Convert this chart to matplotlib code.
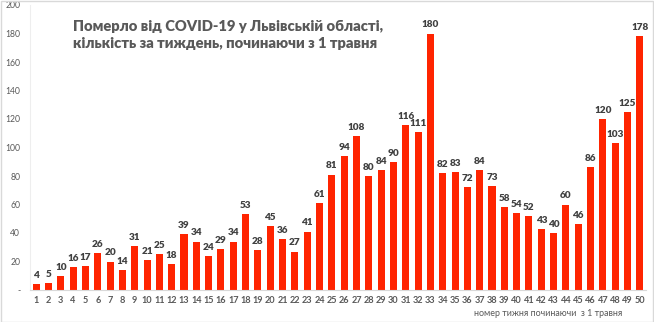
import matplotlib
matplotlib.use("Agg")
import matplotlib.pyplot as plt
from matplotlib.patches import Rectangle

weeks = list(range(1, 51))
deaths = [4, 5, 10, 16, 17, 26, 20, 14, 31, 21, 25, 18, 39, 34, 24, 29, 34, 53, 28, 45,
          36, 27, 41, 61, 81, 94, 108, 80, 84, 90, 116, 111, 180, 82, 83, 72, 84, 73, 58, 54,
          52, 43, 40, 60, 46, 86, 120, 103, 125, 178]
y_ticks = list(range(0, 201, 20))
y_tick_labels = ["-"] + [str(v) for v in y_ticks[1:]]
title = "Померло від COVID-19 у Львівській області,\nкількість за тиждень, починаючи з 1 травня"
x_title = "номер тижня починаючи  з 1 травня"

plt.rcParams['font.family'] = ['Lato', 'DejaVu Sans']

fig = plt.figure(figsize=(6.54, 3.22), dpi=100)
ax = fig.add_axes([30 / 654, 32 / 322, 616 / 654, 285 / 322])

bar_color = "#FF2400"
ax.bar(weeks, deaths, width=0.57, color=bar_color, zorder=2)

for w, d in zip(weeks, deaths):
    ax.annotate(str(d), (w, d), xytext=(0, 3), textcoords="offset points",
                ha="center", va="bottom", fontsize=7.2, fontweight="heavy", color="#404040")

ax.set_xlim(0.5, 50.5)
ax.set_ylim(0, 200)
ax.set_yticks(y_ticks)
ax.set_yticklabels(y_tick_labels)
ax.set_xticks(weeks)
ax.set_xticklabels([str(w) for w in weeks])
ax.tick_params(axis="y", length=0, labelsize=6.2, labelcolor="#595959", pad=7)
ax.tick_params(axis="x", length=0, labelsize=6.6, labelcolor="#595959", pad=4)
for lbl in ax.get_xticklabels():
    lbl.set_fontweight("bold")

for side in ("top", "right"):
    ax.spines[side].set_visible(False)
ax.spines["left"].set_color("#EEEEEE")
ax.spines["left"].set_linewidth(0.8)
ax.spines["bottom"].set_color("#D9D9D9")
ax.spines["bottom"].set_linewidth(0.8)

fig.text(73 / 654, 1 - 35 / 322, title, ha="left", va="center", fontsize=10.6,
         fontweight="heavy", color="#595959", linespacing=1.45)
fig.text(548 / 654, 1 - 313 / 322, x_title, ha="center", va="center",
         fontsize=6.4, color="#595959")

fig.patches.append(Rectangle((0.5 / 654, 0.5 / 322), 1 - 1.5 / 654, 1 - 1.5 / 322,
                             transform=fig.transFigure, fill=False,
                             edgecolor="#D9D9D9", linewidth=1.0))

fig.savefig("out.png", dpi=100)
